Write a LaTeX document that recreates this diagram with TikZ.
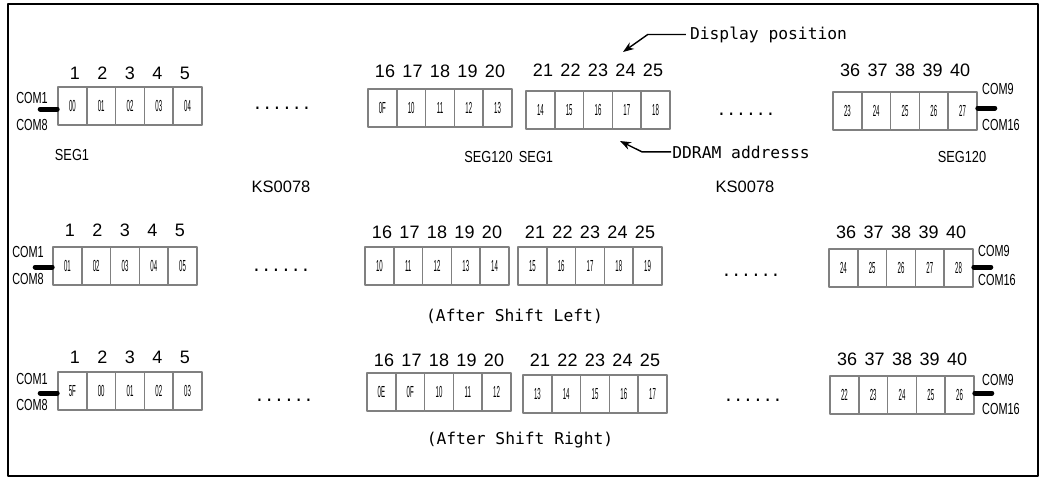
\documentclass[tikz,border=0pt]{standalone}
\usepackage{graphicx}
\usepackage{fontspec}
\setmainfont{Liberation Sans}
\newfontfamily\monofont{DejaVu Sans Mono}
\usetikzlibrary{arrows.meta}
\definecolor{cellgray}{RGB}{128,128,128}
\newcommand{\narrow}[2]{\scalebox{#1}[1]{#2}}
% #1 name, #2 left x, #3 top y, #4 y of the numbers, #5 addresses, #6 first position
\newcommand{\cellrow}[6]{%
  \foreach \c [count=\i from 0] in {#5}{
    \node[cell] (#1-\i) at ({#2+14.4+28.8*\i},{#3+19}) {\narrow{0.38}{\c}};
    \pgfmathtruncatemacro{\n}{#6+\i}
    \node[num] (#1-n\i) at ({#2+72+27.5*(\i-2)},#4) {\n};
  }%
}
\tikzset{
  cell/.style={draw=cellgray,line width=1.6pt,minimum width=28.8pt,minimum height=38pt,inner sep=0pt,font=\fontsize{16}{16}\selectfont},
  num/.style={inner sep=0pt,font=\fontsize{18}{18}\selectfont},
  comlab/.style={inner sep=0pt,font=\fontsize{16}{16}\selectfont},
  seglab/.style={inner sep=0pt,font=\fontsize{16}{16}\selectfont},
  chip/.style={inner sep=0pt,font=\fontsize{16.5}{17}\selectfont},
  mono/.style={inner sep=0pt,anchor=base,font=\monofont\fontsize{16.3}{17}\selectfont},
  bus/.style={line width=5pt,line cap=round},
  ptr/.style={line width=1.4pt,-{Stealth[length=11pt,width=8pt]}},
}
\begin{document}
\begin{tikzpicture}[x=1pt,y=-1pt,line join=round]
  \useasboundingbox (0,0) rectangle (1043,477);
  \draw[line width=1.6pt] (8,4) rectangle (1038,476);

  % before the shift
  \cellrow{ra}{58}{87}{73}{00,01,02,03,04}{1}
  \cellrow{rb}{368}{89}{71}{0F,10,11,12,13}{16}
  \cellrow{rc}{526}{91}{70}{14,15,16,17,18}{21}
  \cellrow{rd}{833}{92}{70}{23,24,25,26,27}{36}
  \node[comlab] (ra-com1) at (32,98) {\narrow{0.68}{COM1}};
  \node[comlab] (ra-com8) at (32,125) {\narrow{0.68}{COM8}};
  \node[comlab,anchor=west] (rd-com9) at (982,89) {\narrow{0.68}{COM9}};
  \node[comlab,anchor=west] (rd-com16) at (982,125) {\narrow{0.68}{COM16}};
  \draw[bus] ([yshift=-3pt]ra-0.west) -- ++(-17,0);
  \draw[bus] ([yshift=3pt]rd-4.east) -- ++(17,0);
  \node[mono] (ra-dots) at (282,109.5) {......};
  \node[mono] (rc-dots) at (746,115.5) {......};
  \node[seglab] (ra-seg1) at (72,155) {\narrow{0.8}{SEG1}};
  \node[seglab] (rb-seg120) at (488.5,157) {\narrow{0.8}{SEG120}};
  \node[seglab] (rc-seg1) at (536,157) {\narrow{0.8}{SEG1}};
  \node[seglab] (rd-seg120) at (962,157) {\narrow{0.8}{SEG120}};
  \node[chip] (chip1) at (281,187) {KS0078};
  \node[chip] (chip2) at (745,187) {KS0078};
  \node[mono] (disp) at (768.5,39) {Display position};
  \node[mono] (ddram) at (741,158) {DDRAM addresss};
  \coordinate (disp-tip) at (623,52);
  \coordinate (ddram-tip) at (620,141);
  \draw[ptr] ([xshift=-4pt]disp.west) -- ++(-38,0) -- (disp-tip);
  \draw[ptr] ([xshift=-1pt]ddram.west) -- ++(-29,0) -- (ddram-tip);

  % after shift left
  \cellrow{sa}{53}{247}{230}{01,02,03,04,05}{1}
  \cellrow{sb}{365}{247}{232}{10,11,12,13,14}{16}
  \cellrow{sc}{518}{247}{232}{15,16,17,18,19}{21}
  \cellrow{sd}{829}{249}{232}{24,25,26,27,28}{36}
  \node[comlab] (sa-com1) at (28,252) {\narrow{0.68}{COM1}};
  \node[comlab] (sa-com8) at (28,279) {\narrow{0.68}{COM8}};
  \node[comlab,anchor=west] (sd-com9) at (978,251) {\narrow{0.68}{COM9}};
  \node[comlab,anchor=west] (sd-com16) at (978,280) {\narrow{0.68}{COM16}};
  \draw[bus] ([yshift=-1pt]sa-0.west) -- ++(-17,0);
  \draw[bus] ([yshift=1pt]sd-4.east) -- ++(17,0);
  \node[mono] (sa-dots) at (281,271.5) {......};
  \node[mono] (sc-dots) at (751,276.5) {......};
  \node[mono] (left) at (514.5,321) {(After Shift Left)};

  % after shift right
  \cellrow{ta}{58}{372}{357}{5F,00,01,02,03}{1}
  \cellrow{tb}{367}{373}{360}{0E,0F,10,11,12}{16}
  \cellrow{tc}{523}{375}{360}{13,14,15,16,17}{21}
  \cellrow{td}{830}{376}{359}{22,23,24,25,26}{36}
  \node[comlab] (ta-com1) at (32,379) {\narrow{0.68}{COM1}};
  \node[comlab] (ta-com8) at (32,405) {\narrow{0.68}{COM8}};
  \node[comlab,anchor=west] (td-com9) at (982,380) {\narrow{0.68}{COM9}};
  \node[comlab,anchor=west] (td-com16) at (982,409) {\narrow{0.68}{COM16}};
  \draw[bus] ([yshift=-2pt]ta-0.west) -- ++(-17,0);
  \draw[bus] ([yshift=2pt]td-4.east) -- ++(17,0);
  \node[mono] (ta-dots) at (284,401.5) {......};
  \node[mono] (tc-dots) at (753,401.5) {......};
  \node[mono] (right) at (520,444) {(After Shift Right)};
\end{tikzpicture}
\end{document}
